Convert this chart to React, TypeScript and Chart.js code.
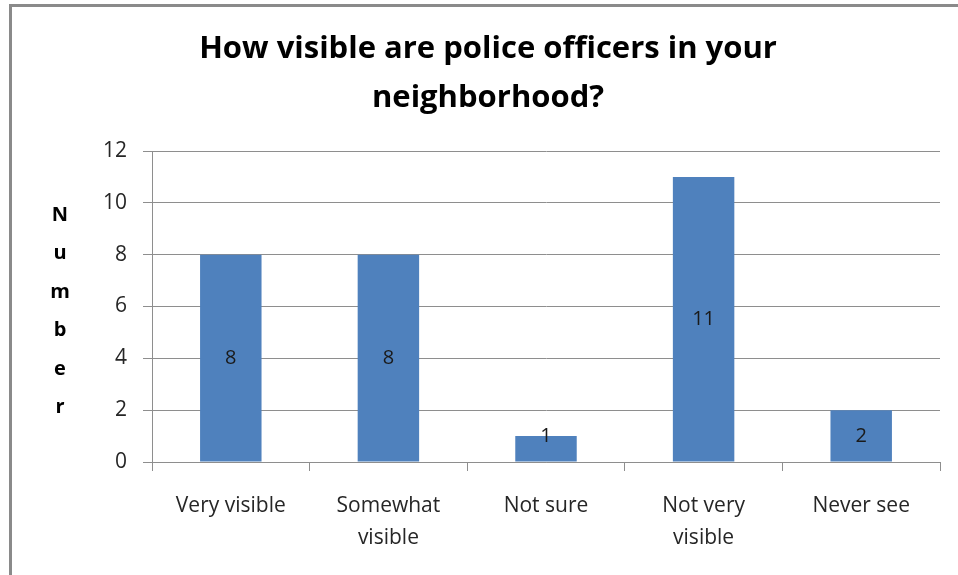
import React, { useEffect, useRef } from "react";
import { Chart, registerables } from "chart.js";

Chart.register(...registerables);

const categories: string[][] = [
  ["Very visible"],
  ["Somewhat", "visible"],
  ["Not sure"],
  ["Not very", "visible"],
  ["Never see"],
];
const counts: number[] = [8, 8, 1, 11, 2];
const titleLines: string[] = ["How visible are police officers in your", "neighborhood?"];
const yAxisTitle = "Number";
const yMin = 0;
const yMax = 12;
const yStep = 2;

const FONT = "'Open Sans', Lato, sans-serif";
const BAR = "#4F81BD";
const GRID = "#8e8e8e";

const labelsPlugin = {
  id: "barLabels",
  afterDatasetsDraw(chart: any) {
    const ctx = chart.ctx;
    const meta = chart.getDatasetMeta(0);
    const y = chart.scales.y;
    ctx.save();
    ctx.font = `20px ${FONT}`;
    ctx.fillStyle = "#1a1a1a";
    ctx.textAlign = "center";
    ctx.textBaseline = "middle";
    meta.data.forEach((el: any, i: number) => {
      const v = counts[i];
      let py = y.getPixelForValue(v / 2);
      py = Math.min(py, y.bottom - 26);
      ctx.fillText(String(v), el.x, py);
    });
    ctx.restore();
  },
};

const textPlugin = {
  id: "titles",
  afterDraw(chart: any) {
    const ctx = chart.ctx;
    const area = chart.chartArea;
    const mid = (area.top + area.bottom) / 2;
    ctx.save();
    // chart title (centred over the chart frame)
    ctx.font = `bold 31px ${FONT}`;
    ctx.fillStyle = "#000";
    ctx.textAlign = "center";
    ctx.textBaseline = "alphabetic";
    titleLines.forEach((line, i) => {
      ctx.fillText(line, 488, area.top - 93 + i * 49);
    });
    // stacked y-axis title
    ctx.font = `bold 20px ${FONT}`;
    yAxisTitle.split("").forEach((ch, i) => {
      ctx.fillText(ch, 60, mid - 86 + i * 38.5);
    });
    ctx.restore();
  },
};

export default function App() {
  const ref = useRef<HTMLCanvasElement>(null);
  useEffect(() => {
    if (!ref.current) return;
    const chart = new Chart(ref.current, {
      type: "bar",
      data: {
        labels: categories,
        datasets: [
          {
            data: counts,
            backgroundColor: BAR,
            borderWidth: 0,
            barPercentage: 0.39,
            categoryPercentage: 1,
          },
        ],
      },
      options: {
        animation: false,
        responsive: false,
        devicePixelRatio: 1,
        layout: { padding: { left: 0, right: 18, top: 151, bottom: 0 } },
        plugins: {
          legend: { display: false },
          tooltip: { enabled: false },
          title: { display: false },
        },
        scales: {
          x: {
            grid: {
              offset: true,
              drawOnChartArea: false,
              drawTicks: true,
              tickLength: 9,
              color: GRID,
            },
            border: { display: true, color: GRID, width: 1 },
            ticks: {
              color: "#262626",
              font: { family: FONT, size: 21, lineHeight: 1.52 },
              padding: 19,
              maxRotation: 0,
              autoSkip: false,
            },
            afterFit(scale: any) {
              scale.height = 113;
            },
          },
          y: {
            min: yMin,
            max: yMax,
            ticks: {
              stepSize: yStep,
              color: "#262626",
              font: { family: FONT, size: 21 },
              padding: 16,
            },
            grid: {
              color: GRID,
              drawTicks: true,
              tickLength: 9,
            },
            border: { display: true, color: GRID, width: 1 },
            afterFit(scale: any) {
              scale.width = 152;
            },
          },
        },
      },
      plugins: [labelsPlugin, textPlugin],
    });
    return () => chart.destroy();
  }, []);

  return (
    <div
      style={{
        position: "fixed",
        left: 0,
        top: 0,
        width: 958,
        height: 575,
        overflow: "hidden",
        background: "#fff",
      }}
    >
      <canvas
        ref={ref}
        width={958}
        height={575}
        style={{ position: "absolute", left: 0, top: 0, width: 958, height: 575 }}
      />
      <div
        style={{
          position: "absolute",
          left: 9,
          top: 4,
          width: 2000,
          height: 2000,
          borderLeft: "3px solid #8a8a8a",
          borderTop: "3px solid #8a8a8a",
          pointerEvents: "none",
        }}
      />
    </div>
  );
}
